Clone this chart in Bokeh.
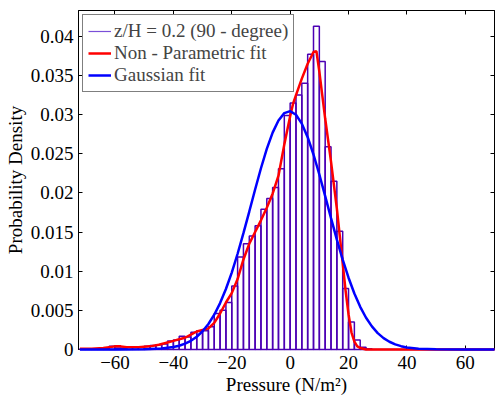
from bokeh.plotting import figure
from bokeh.models import (Range1d, FixedTicker, LinearAxis, Legend, LegendItem,
                          ColumnDataSource)
from bokeh.embed import file_html
from bokeh.resources import INLINE

# ---------------- data ----------------
bin_left = [-72, -70, -68, -66, -64, -62, -60, -58, -56, -54, -52, -50, -48, -46,
            -44, -42, -40, -38, -36, -34, -32, -30, -28, -26, -24, -22, -20, -18,
            -16, -14, -12, -10, -8, -6, -4, -2, 0, 2, 4, 6, 8, 10, 12, 14, 16, 18,
            20, 22, 24, 26, 28, 30, 32, 34, 36, 38, 40, 42, 44, 46, 48, 50, 52,
            54, 56, 58, 60, 62, 64, 66, 68]
bin_width = 2
density = [0.0001, 0.0001, 0.0001, 0.0001, 0.0002, 0.0004, 0.0002, 0.0002, 0.0003,
           0.0003, 0.0003, 0.0004, 0.0005, 0.0006, 0.0007, 0.0011, 0.0012, 0.0017,
           0.0016, 0.0022, 0.0024, 0.0024, 0.0029, 0.0046, 0.0050, 0.0060, 0.0081,
           0.0118, 0.0135, 0.0145, 0.0158, 0.0179, 0.0193, 0.0207, 0.0231, 0.0299,
           0.0315, 0.0325, 0.0340, 0.0377, 0.0413, 0.0368, 0.0259, 0.0215, 0.0151,
           0.0078, 0.0035, 0.0012, 0.0003, 0.0001, 0, 0, 0, 0, 0, 0, 0, 0, 0, 0,
           0, 0, 0, 0, 0, 0, 0, 0, 0, 0, 0]

kde_x = [-72, -68, -64, -62, -60, -58, -56, -52, -48, -45, -42, -40, -38, -36, -34,
         -32, -30, -28, -26, -24, -22, -20, -18, -16, -14, -12, -10, -8, -6, -4,
         -2, 0, 1, 2, 4, 6, 8, 9, 10, 11, 12, 14, 16, 17, 18, 19, 20, 21, 22, 23,
         24, 26, 30, 50, 70]
kde_y = [0.0001, 0.0001, 0.0002, 0.0003, 0.0004, 0.0004, 0.0003, 0.0003, 0.0004,
         0.0006, 0.0009, 0.0011, 0.0013, 0.0015, 0.0019, 0.0023, 0.0025, 0.0027,
         0.0034, 0.0046, 0.0060, 0.0072, 0.0090, 0.0115, 0.0135, 0.0150, 0.0165,
         0.0181, 0.0199, 0.0222, 0.0262, 0.0298, 0.0314, 0.0325, 0.0346, 0.0365,
         0.0380, 0.0381, 0.0355, 0.0325, 0.0295, 0.0240, 0.0180, 0.0145, 0.0110,
         0.0075, 0.0045, 0.0022, 0.0010, 0.0004, 0.0002, 0.0, 0.0, 0.0, 0.0]

gauss_x = [-72, -60, -50, -44, -40, -38, -36, -34, -32, -30, -28, -26, -24, -22,
           -20, -18, -16, -14, -12, -10, -8, -6, -4, -2, 0, 2, 4, 6, 8, 10, 12,
           14, 16, 18, 20, 22, 24, 26, 28, 30, 32, 34, 36, 38, 40, 44, 50, 60, 70]
gauss_y = [0.0, 0.000001, 0.000019, 0.000117, 0.000308, 0.000484, 0.000743,
           0.001112, 0.001629, 0.002332, 0.003255, 0.004446, 0.005929, 0.007731,
           0.009826, 0.01223, 0.01486, 0.01762, 0.02044, 0.02315, 0.02562, 0.02770,
           0.02926, 0.03019, 0.03044, 0.02998, 0.02885, 0.02712, 0.02491, 0.02235,
           0.01959, 0.01678, 0.01404, 0.01148, 0.009166, 0.007150, 0.005450,
           0.004059, 0.002952, 0.002098, 0.001457, 0.000988, 0.000655, 0.000424,
           0.000268, 0.000100, 0.000019, 0.000001, 0.0]

x_ticks = [-60, -40, -20, 0, 20, 40, 60]
y_ticks = [0, 0.005, 0.01, 0.015, 0.02, 0.025, 0.03, 0.035, 0.04]
y_tick_labels = ["0", "0.005", "0.01", "0.015", "0.02", "0.025", "0.03", "0.035", "0.04"]

legend_labels = ["z/H = 0.2 (90 - degree)", "Non - Parametric fit", "Gaussian fit"]
x_label = "Pressure (N/m\u00b2)"
y_label = "Probability Density"

# ---------------- figure ----------------
FONT = "Liberation Serif"
FS = "19px"
HIST_COLOR = "#4c00b4"

p = figure(width=495, height=401, output_backend="svg", toolbar_location=None,
           x_range=Range1d(-72.5, 70), y_range=Range1d(0, 0.0433),
           min_border_left=78, min_border_right=1, min_border_top=10,
           min_border_bottom=52, x_axis_label=x_label, y_axis_label=y_label)
p.grid.visible = False
p.outline_line_color = "black"
p.outline_line_width = 1
p.background_fill_color = "white"
p.border_fill_color = "white"

bin_right = [b + bin_width for b in bin_left]
hist_src = ColumnDataSource(dict(left=bin_left, right=bin_right, top=density))
hist = p.quad(left="left", right="right", bottom=0, top="top", source=hist_src,
              fill_color=None, line_color=HIST_COLOR, line_width=1.5, level="overlay")

red = p.line(kde_x, kde_y, line_color="#ff0000", line_width=2.5, level="overlay")
blue = p.line(gauss_x, gauss_y, line_color="#0000ff", line_width=2.5, level="overlay")

# legend proxy for the histogram (thin line); a one-point line draws nothing
hist_proxy = p.line(x=bin_left[:1], y=density[:1], line_color="#7a4fd8", line_width=1.2)

legend = Legend(items=[LegendItem(label=legend_labels[0], renderers=[hist_proxy]),
                       LegendItem(label=legend_labels[1], renderers=[red]),
                       LegendItem(label=legend_labels[2], renderers=[blue])],
                location="top_left", margin=4, padding=5, spacing=0,
                label_height=20, glyph_height=20, glyph_width=23, label_standoff=3,
                label_text_font=FONT, label_text_font_size=FS,
                border_line_color="black", border_line_width=1,
                background_fill_color="white", background_fill_alpha=1)
p.add_layout(legend)

for ax in (p.xaxis[0], p.yaxis[0]):
    ax.major_tick_in = 4
    ax.major_tick_out = 0
    ax.minor_tick_line_color = None
    ax.axis_line_color = "black"
    ax.major_tick_line_color = "black"
    ax.major_label_text_font = FONT
    ax.major_label_text_font_size = FS
    ax.major_label_text_color = "black"
    ax.axis_label_text_font = FONT
    ax.axis_label_text_font_size = FS
    ax.axis_label_text_font_style = "normal"
    ax.axis_label_text_color = "black"

p.xaxis[0].ticker = FixedTicker(ticks=x_ticks)
p.yaxis[0].ticker = FixedTicker(ticks=y_ticks)
p.yaxis[0].major_label_overrides = dict(zip(y_ticks, y_tick_labels))
p.xaxis[0].major_label_standoff = 6
p.yaxis[0].major_label_standoff = 5
p.xaxis[0].axis_label_standoff = 2
p.yaxis[0].axis_label_standoff = 2

# mirrored axes (box on): ticks only, empty labels
top_ax = LinearAxis(ticker=FixedTicker(ticks=x_ticks),
                    major_label_overrides={t: "" for t in x_ticks})
right_ax = LinearAxis(ticker=FixedTicker(ticks=y_ticks),
                      major_label_overrides={t: "" for t in y_ticks})
for ax in (top_ax, right_ax):
    ax.major_tick_in = 4
    ax.major_tick_out = 0
    ax.minor_tick_line_color = None
    ax.major_label_standoff = 0
    ax.axis_line_color = "black"
    ax.major_tick_line_color = "black"
p.add_layout(top_ax, "above")
p.add_layout(right_ax, "right")

open("out.html", "w").write(file_html(p, INLINE))
